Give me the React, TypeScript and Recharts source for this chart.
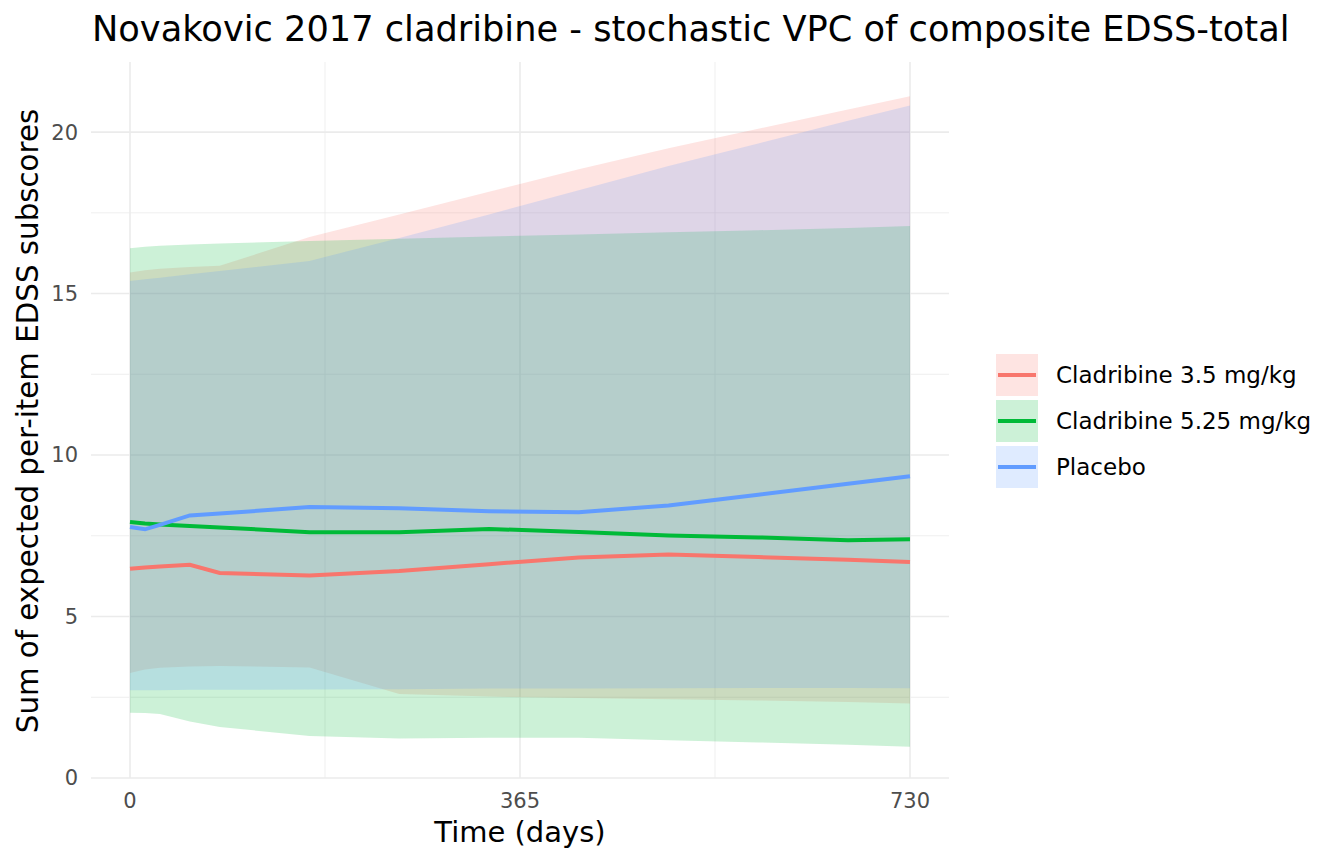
import React from 'react';
import { ComposedChart, Area, Line, XAxis, YAxis, CartesianGrid } from 'recharts';

// study days of the VPC summary
const TIME = [0, 14, 28, 56, 84, 168, 252, 336, 420, 504, 588, 672, 730];

// Cladribine 3.5 mg/kg: median and 5th/95th percentile
const CLAD35_MED = [6.48, 6.52, 6.55, 6.6, 6.35, 6.27, 6.41, 6.62, 6.83, 6.92, 6.84, 6.76, 6.69];
const CLAD35_LO = [3.25, 3.36, 3.41, 3.45, 3.47, 3.42, 2.6, 2.52, 2.48, 2.44, 2.4, 2.35, 2.31];
const CLAD35_HI = [15.65, 15.72, 15.77, 15.82, 15.86, 16.75, 17.45, 18.15, 18.85, 19.5, 20.1, 20.7, 21.11];

// Cladribine 5.25 mg/kg
const CLAD525_MED = [7.93, 7.88, 7.85, 7.8, 7.76, 7.61, 7.61, 7.71, 7.62, 7.51, 7.45, 7.36, 7.39];
const CLAD525_LO = [2.02, 2.01, 1.98, 1.75, 1.58, 1.3, 1.22, 1.25, 1.25, 1.17, 1.1, 1.03, 0.97];
const CLAD525_HI = [16.4, 16.45, 16.48, 16.52, 16.55, 16.63, 16.7, 16.77, 16.83, 16.9, 16.96, 17.03, 17.09];

// Placebo
const PLACEBO_MED = [7.77, 7.7, 7.84, 8.13, 8.19, 8.39, 8.35, 8.26, 8.23, 8.44, 8.77, 9.11, 9.34];
const PLACEBO_LO = [2.72, 2.72, 2.72, 2.73, 2.73, 2.74, 2.75, 2.77, 2.77, 2.78, 2.79, 2.79, 2.78];
const PLACEBO_HI = [15.39, 15.44, 15.49, 15.6, 15.7, 16.01, 16.72, 17.45, 18.2, 18.95, 19.65, 20.35, 20.82];

const X_TICKS = [0, 365, 730];
const X_MINOR = [182.5, 547.5];
const Y_TICKS = [0, 5, 10, 15, 20];
const Y_MINOR = [2.5, 7.5, 12.5, 17.5];

const X_DOMAIN = [-36.5, 766.5];
const Y_DOMAIN = [0, 22.17];

const SERIES = [
  { key: 'c35', name: 'Cladribine 3.5 mg/kg', color: '#F8766D', med: CLAD35_MED, lo: CLAD35_LO, hi: CLAD35_HI },
  { key: 'c525', name: 'Cladribine 5.25 mg/kg', color: '#00BA38', med: CLAD525_MED, lo: CLAD525_LO, hi: CLAD525_HI },
  { key: 'pbo', name: 'Placebo', color: '#619CFF', med: PLACEBO_MED, lo: PLACEBO_LO, hi: PLACEBO_HI },
];

const data = TIME.map((t, i) => {
  const row: any = { time: t };
  SERIES.forEach((s) => {
    row[s.key] = s.med[i];
    row[s.key + 'Band'] = [s.lo[i], s.hi[i]];
  });
  return row;
});

const FONT = '"DejaVu Sans", sans-serif';
const GRID = '#EBEBEB';

export default function App() {
  return (
    <div style={{ position: 'absolute', left: 0, top: 0, width: 1344, height: 864, background: '#fff', fontFamily: FONT }}>
      <ComposedChart
        width={1344}
        height={864}
        data={data}
        margin={{ top: 62, right: 395, bottom: 0, left: 0 }}
        style={{ fontFamily: FONT }}
      >
        {/* minor grid, then major grid; no panel border */}
        <CartesianGrid stroke={GRID} strokeWidth={0.8} xAxisId="minor" yAxisId="minor" syncWithTicks />
        <CartesianGrid stroke={GRID} strokeWidth={1.6} syncWithTicks />
        <XAxis xAxisId="minor" dataKey="time" type="number" domain={X_DOMAIN} ticks={X_MINOR} allowDataOverflow hide />
        <YAxis yAxisId="minor" type="number" domain={Y_DOMAIN} ticks={Y_MINOR} allowDataOverflow hide />
        <XAxis
          dataKey="time"
          type="number"
          domain={X_DOMAIN}
          ticks={X_TICKS}
          allowDataOverflow
          height={86}
          tickLine={false}
          axisLine={false}
          tickSize={0}
          tickMargin={15}
          tick={{ fill: '#4D4D4D', fontSize: 21, fontFamily: FONT }}
        />
        <YAxis
          type="number"
          domain={Y_DOMAIN}
          ticks={Y_TICKS}
          allowDataOverflow
          width={91}
          tickLine={false}
          axisLine={false}
          tickSize={0}
          tickMargin={13}
          tick={{ fill: '#4D4D4D', fontSize: 21, fontFamily: FONT }}
        />
        {SERIES.map((s) => (
          <Area
            key={s.key + 'Band'}
            dataKey={s.key + 'Band'}
            type="linear"
            stroke="none"
            fill={s.color}
            fillOpacity={0.2}
            dot={false}
            activeDot={false}
            isAnimationActive={false}
          />
        ))}
        {SERIES.map((s) => (
          <Line
            key={s.key}
            dataKey={s.key}
            type="linear"
            stroke={s.color}
            strokeWidth={4}
            dot={false}
            activeDot={false}
            isAnimationActive={false}
          />
        ))}
      </ComposedChart>
      <svg
        width={1344}
        height={864}
        style={{ position: 'absolute', left: 0, top: 0, pointerEvents: 'none', fontFamily: FONT }}
      >
        <text x={92} y={41} fontSize={35.2} fill="#000">
          Novakovic 2017 cladribine - stochastic VPC of composite EDSS-total
        </text>
        <text x={520} y={842} fontSize={29} fill="#000" textAnchor="middle">
          Time (days)
        </text>
        <text x={-421} y={38} fontSize={29.3} fill="#000" textAnchor="middle" transform="rotate(-90)">
          Sum of expected per-item EDSS subscores
        </text>
        {SERIES.map((s, i) => (
          <g key={s.key}>
            <rect x={996} y={354 + i * 46} width={42} height={42} fill={s.color} fillOpacity={0.2} />
            <line x1={998} x2={1036} y1={375 + i * 46} y2={375 + i * 46} stroke={s.color} strokeWidth={4} />
            <text x={1056} y={383 + i * 46} fontSize={23} fill="#000">
              {s.name}
            </text>
          </g>
        ))}
      </svg>
    </div>
  );
}
